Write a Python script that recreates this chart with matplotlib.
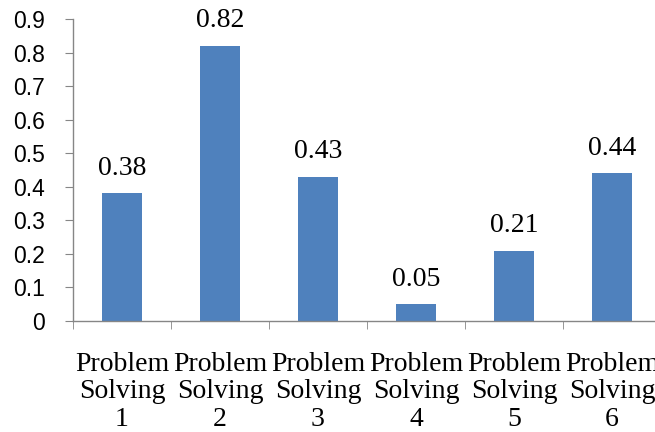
import matplotlib
matplotlib.use("Agg")
import matplotlib.pyplot as plt
import numpy as np

categories = ["Problem\nSolving\n1", "Problem\nSolving\n2", "Problem\nSolving\n3",
              "Problem\nSolving\n4", "Problem\nSolving\n5", "Problem\nSolving\n6"]
values = [0.38, 0.82, 0.43, 0.05, 0.21, 0.44]
value_labels = ["0.38", "0.82", "0.43", "0.05", "0.21", "0.44"]
y_ticks = [0, 0.1, 0.2, 0.3, 0.4, 0.5, 0.6, 0.7, 0.8, 0.9]
y_tick_labels = ["0", "0.1", "0.2", "0.3", "0.4", "0.5", "0.6", "0.7", "0.8", "0.9"]

W, H = 655, 432
fig = plt.figure(figsize=(W / 100, H / 100), dpi=100)
ax = fig.add_axes([73 / W, (H - 321) / H, (661 - 73) / W, (321 - 19) / H])

x = np.arange(len(values))
ax.bar(x, values, width=0.4, color="#4F81BD")

ax.set_xlim(-0.5, len(values) - 0.5)
ax.set_ylim(0, 0.9)

grey = "#868686"
for s in ["top", "right"]:
    ax.spines[s].set_visible(False)
for s in ["left", "bottom"]:
    ax.spines[s].set_color(grey)
    ax.spines[s].set_linewidth(1.0)

ax.set_yticks(y_ticks)
ax.set_yticklabels(y_tick_labels, fontfamily="Liberation Sans", fontsize=16.5)
ax.tick_params(axis="y", direction="out", length=6, color=grey, pad=14)

# category labels at centres, tick marks at category boundaries
ax.set_xticks(x)
ax.set_xticklabels(categories, fontfamily="Liberation Serif", fontsize=20,
                   linespacing=1.15)
ax.tick_params(axis="x", which="major", length=0, pad=22)
ax.set_xticks(np.arange(len(values) + 1) - 0.5, minor=True)
ax.tick_params(axis="x", which="minor", direction="out", length=6, color=grey)

for xi, v, lab in zip(x, values, value_labels):
    ax.annotate(lab, (xi, v), xytext=(0, 9), textcoords="offset points",
                ha="center", va="bottom", fontfamily="Liberation Serif", fontsize=20)

fig.savefig("out.png", dpi=100)
